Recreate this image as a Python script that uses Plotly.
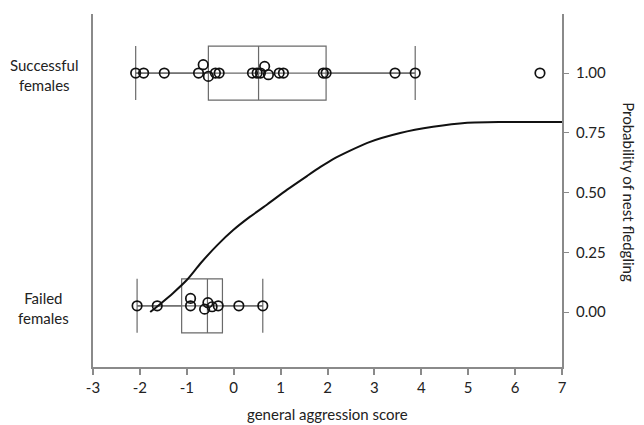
import plotly.graph_objects as go

# ---- data ----
succ_x = [-2.09, -1.92, -1.48, -0.75, -0.65, -0.54, -0.39, -0.31, 0.40, 0.50,
          0.57, 0.66, 0.74, 0.97, 1.06, 1.91, 1.97, 3.44, 3.87, 6.53]
succ_jit = [0, 0, 0, 0, 0.035, -0.014, 0, 0, 0, 0,
            0, 0.028, -0.007, 0, 0, 0, 0, 0, 0, 0]
fail_x = [-2.06, -1.63, -0.92, -0.92, -0.62, -0.55, -0.46, -0.33, 0.11, 0.62]
fail_jit = [0, 0, 0.031, 0, -0.014, 0.013, -0.004, 0, 0, 0]

succ_pos = 1.0
fail_pos = 0.026

succ_stats = dict(q1=-0.54, median=0.53, q3=1.97, lowerfence=-2.09, upperfence=3.87)
fail_stats = dict(q1=-1.11, median=-0.56, q3=-0.24, lowerfence=-2.06, upperfence=0.62)

curve_x = [-1.78, -1.56, -1.29, -0.99, -0.71, -0.35, -0.01, 0.35, 0.72, 1.14,
           1.57, 1.85, 2.12, 2.85, 3.55, 4.25, 4.98, 5.68, 7.0]
curve_y = [0.0, 0.035, 0.080, 0.136, 0.203, 0.280, 0.343, 0.399, 0.451, 0.512,
           0.570, 0.607, 0.640, 0.708, 0.749, 0.775, 0.792, 0.795, 0.795]

x_ticks = list(range(-3, 8))
y_ticks = [0.0, 0.25, 0.5, 0.75, 1.0]

FONT = "Lato"
TXT = "#222222"
AX = "#8a8a8a"
BOX = "#6a6a6a"

fig = go.Figure()

for pos, st in [(succ_pos, succ_stats), (fail_pos, fail_stats)]:
    # whisker line through the whole range (passes through the box)
    fig.add_trace(go.Scatter(x=[st["lowerfence"], st["upperfence"]], y=[pos, pos],
                             mode="lines", line=dict(color=BOX, width=1.2),
                             hoverinfo="skip", showlegend=False))
    fig.add_trace(go.Box(orientation="h", y=[pos], q1=[st["q1"]], median=[st["median"]],
                         q3=[st["q3"]], lowerfence=[st["lowerfence"]],
                         upperfence=[st["upperfence"]], width=0.226, whiskerwidth=1,
                         fillcolor="rgba(0,0,0,0)", line=dict(color=BOX, width=1.2),
                         boxpoints=False, showlegend=False))

fig.add_trace(go.Scatter(x=succ_x, y=[succ_pos + j for j in succ_jit], mode="markers",
                         marker=dict(symbol="circle-open", size=9.5, color="#111111",
                                     line=dict(width=1.7)), showlegend=False))
fig.add_trace(go.Scatter(x=fail_x, y=[fail_pos + j for j in fail_jit], mode="markers",
                         marker=dict(symbol="circle-open", size=9.5, color="#111111",
                                     line=dict(width=1.7)), showlegend=False))

fig.add_trace(go.Scatter(x=curve_x, y=curve_y, mode="lines",
                         line=dict(color="#111111", width=2, shape="spline", smoothing=0.6),
                         showlegend=False))

fig.update_layout(
    width=644, height=425,
    margin=dict(l=93, r=82, t=14, b=58),
    paper_bgcolor="white", plot_bgcolor="white",
    font=dict(family=FONT, size=15, color=TXT),
    showlegend=False,
    xaxis=dict(range=[-3, 7], tickvals=x_ticks, ticktext=[str(v) for v in x_ticks],
               showline=True, linecolor=AX, linewidth=2, ticks="outside",
               ticklen=6, tickcolor=AX, tickwidth=1.5, showgrid=False, zeroline=False,
               tickfont=dict(size=15, color=TXT)),
    yaxis=dict(range=[-0.23, 1.247], side="right", tickvals=y_ticks,
               ticktext=["%.2f" % v for v in y_ticks],
               showline=True, mirror=True, linecolor=AX, linewidth=2, ticks="outside",
               ticklen=5, tickcolor=AX, tickwidth=1.2, showgrid=False, zeroline=False,
               ticklabelstandoff=4, tickfont=dict(size=15, color=TXT)),
)

fig.add_annotation(text="general aggression score", xref="paper", yref="paper",
                   x=0.5, y=-0.133, xanchor="center", yanchor="middle",
                   showarrow=False, font=dict(size=15, color=TXT))
fig.add_annotation(text="Probability of nest fledgling", xref="paper", yref="paper",
                   x=1.143, y=0.495, xanchor="center", yanchor="middle", textangle=90,
                   showarrow=False, font=dict(size=15, color=TXT))
fig.add_annotation(text="Successful<br>females", xref="paper", yref="y",
                   x=-0.105, y=succ_pos - 0.01, xanchor="center", yanchor="middle",
                   align="center", showarrow=False, font=dict(size=15, color=TXT))
fig.add_annotation(text="Failed<br>females", xref="paper", yref="y",
                   x=-0.105, y=fail_pos - 0.01, xanchor="center", yanchor="middle",
                   align="center", showarrow=False, font=dict(size=15, color=TXT))

fig.write_html("out.html", config={"displayModeBar": False},
               post_script="document.body.style.margin='0';")
